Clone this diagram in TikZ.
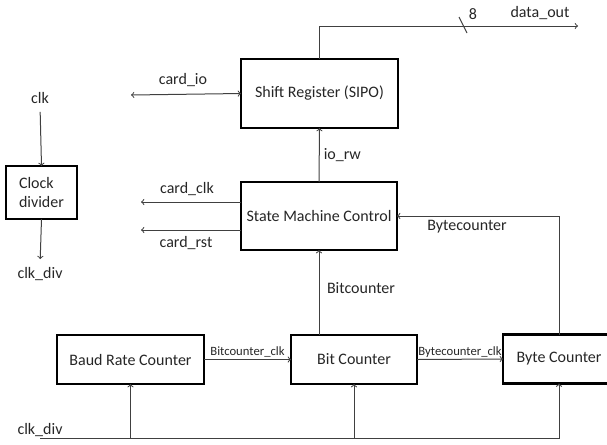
\documentclass[tikz,border=0pt]{standalone}
\usepackage{fontspec}
\setmainfont{Carlito}
\usepackage{tikz}
\usetikzlibrary{calc}
\usetikzlibrary{arrows}
\usetikzlibrary{positioning}
\tikzset{wire/.style={draw=black!75,line width=0.75pt}}

\begin{document}
\begin{tikzpicture}[x=0.75pt,y=-0.75pt,font=\fontsize{12}{14}\selectfont]
  % some styles
  \tikzset{
    block/.style={
      rectangle,
      draw=black,
      line width=2.2pt,
      inner sep=0mm,
      outer sep=0mm,
      text=black!85
    }
  }
  \tikzset{lbl/.style={inner sep=1pt,text=black!85}}
  \tikzset{small/.style={lbl,font=\fontsize{9.5}{11}\selectfont}}
  \tikzset{tip/.style={wire,->,>=to}}

\useasboundingbox (0,0) rectangle (607,444);

% blocks
\node[block,minimum width=117.75pt,minimum height=51.75pt] (shiftreg) at (319.5,93.5) {Shift Register (SIPO)};
\node[block,minimum width=117pt,minimum height=51pt] (smc) at (319,216) {State Machine Control};
\node[block,minimum width=53.25pt,minimum height=39.75pt,align=left] (clkdiv) at (41.5,192.5) {Clock\\divider};
\node[block,minimum width=110.25pt,minimum height=36.75pt] (baud) at (130.5,359.5) {Baud Rate Counter};
\node[block,minimum width=94.5pt,minimum height=36.75pt] (bitcnt) at (354,359.5) {Bit Counter};
% the right side runs off the edge
\begin{scope}
  \clip (0,0) rectangle (607,444);
  \node[block,minimum width=84pt,minimum height=36.75pt] (bytecnt) at (559,359) {Byte Counter};
\end{scope}

% free ends
\coordinate (dout) at (578,26);
\coordinate (cio) at (131,95);
\coordinate (cclk) at (141,202);
\coordinate (crst) at (141,230);
\coordinate (bus) at (40,438);

% clock divider
\node[lbl] (clk) at (40,98) {clk};
\node[lbl] (clkout) at (40,274) {clk\_div};
\draw[tip,shorten <=5pt] (clk.south) -- (clkdiv.north);
\draw[tip,shorten >=5pt] (clkdiv.south) -- (clkout.north);

% shift register
\draw[tip] (shiftreg.north) |- (dout);
\draw[wire] (459,17) -- (467,33);
\node[lbl] (nbits) at (473,14) {8};
\node[lbl] (dlabel) at (540,13) {data\_out};
\draw[wire,<->,>=to] (cio) -- (shiftreg.west);
\node[lbl] at (183,80) {card\_io};

% state machine
\draw[tip] (smc.north) -- (shiftreg.south) node[lbl,midway,right=2pt] {io\_rw};
\draw[tip] (smc.west |- cclk) -- (cclk);
\draw[tip] (smc.west |- crst) -- (crst);
\node[lbl] at (187,189) {card\_clk};
\node[lbl] at (186,243) {card\_rst};
\draw[tip] (bytecnt.north) |- (smc.east);
\node[lbl] at (467,227) {Bytecounter};
\draw[tip] (smc.south |- bitcnt.north) -- (smc.south);
\node[lbl] at (361,288) {Bitcounter};

% counters
\draw[tip] (baud.east) -- (bitcnt.west) node[small,midway,above] {Bitcounter\_clk};
\draw[tip] (bitcnt.east) -- (bytecnt.west) node[small,midway,above] {Bytecounter\_clk};

% clk_div bus
\node[lbl] (buslbl) at (40,430) {clk\_div};
\draw[wire] (bus) -| (bytecnt.south);
\foreach \blk in {baud,bitcnt,bytecnt}
  \draw[tip] (\blk.south |- bus) -- (\blk.south);

\end{tikzpicture}
\end{document}
